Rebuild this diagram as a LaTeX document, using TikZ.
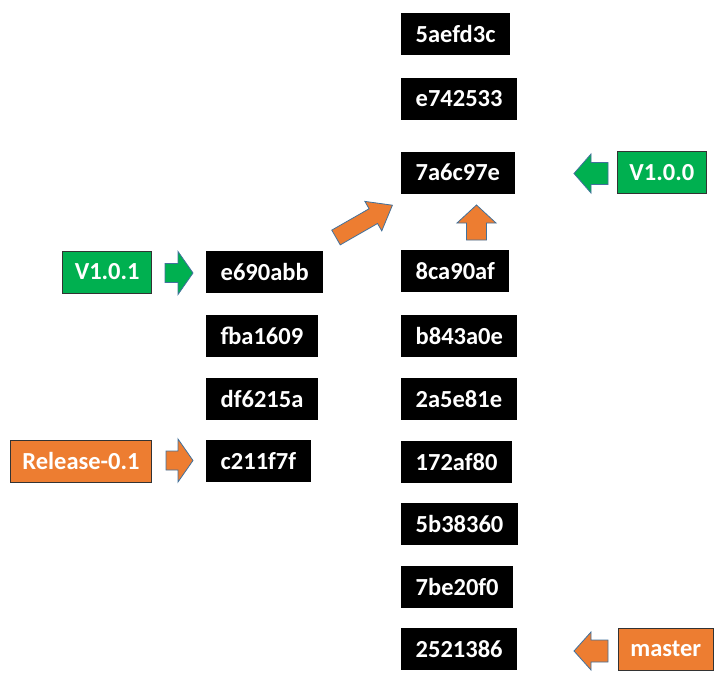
\documentclass[tikz,border=0pt]{standalone}
\usepackage{fontspec}
\setmainfont{Carlito}
\usepackage{xcolor}
\usetikzlibrary{positioning}

\definecolor{tagGreen}{RGB}{0,176,80}
\definecolor{tagOrange}{RGB}{237,125,49}
\definecolor{arrowEdge}{RGB}{65,113,156}

\tikzset{
    commit/.style={fill=black, text=white, anchor=west, minimum height=42pt,
        inner xsep=14.5pt, inner ysep=0pt, font=\bfseries\fontsize{24.5}{28}\selectfont},
    tag/.style={draw=black!80, line width=0.8pt, text=white, minimum height=42pt,
        inner xsep=12pt, inner ysep=0pt, font=\bfseries\fontsize{24.5}{28}\selectfont},
    blockarrow/.style={draw=arrowEdge, line width=0.8pt, line join=miter}
}

% tail, angle, length, shaft, head width, head length, colour
\newcommand{\blockarrow}[7]{%
    \draw[blockarrow, fill=#7, shift={#1}, rotate=#2]
        (0,-#4/2) -- ({#3-#6},-#4/2) -- ({#3-#6},-#5/2) -- (#3,0)
        -- ({#3-#6},#5/2) -- ({#3-#6},#4/2) -- (0,#4/2) -- cycle;
}

\begin{document}
\begin{tikzpicture}[x=1pt, y=1pt]
    \useasboundingbox (0,0) rectangle (726,-685);

    % master line
    \node[commit] (c5aefd3c) at (401,-34) {5aefd3c};
    \node[commit] (ce742533) at (401,-99) {e742533};
    \node[commit] (c7a6c97e) at (401,-172.5) {7a6c97e};
    \node[commit] (c8ca90af) at (401,-271) {8ca90af};
    \node[commit] (cb843a0e) at (401,-336) {b843a0e};
    \node[commit] (c2a5e81e) at (401,-399) {2a5e81e};
    \node[commit] (c172af80) at (401,-462) {172af80};
    \node[commit] (c5b38360) at (401,-524) {5b38360};
    \node[commit] (c7be20f0) at (401,-587) {7be20f0};
    \node[commit] (c2521386) at (401,-649) {2521386};

    % release line
    \node[commit] (ce690abb) at (206,-271.5) {e690abb};
    \node[commit] (cfba1609) at (206,-336) {fba1609};
    \node[commit] (cdf6215a) at (206,-399) {df6215a};
    \node[commit] (cc211f7f) at (206,-461) {c211f7f};

    % tags and branches
    \node[tag, fill=tagGreen, anchor=east] (v101) at (152,-272) {V1.0.1};
    \node[tag, fill=tagOrange, anchor=east] (rel01) at (152,-461) {Release-0.1};
    \node[tag, fill=tagGreen, anchor=west] (v100) at (617,-172.5) {V1.0.0};
    \node[tag, fill=tagOrange, anchor=west] (master) at (618,-649) {master};

    \blockarrow{(165,-273)}{0}{28}{19}{43}{15}{tagGreen}
    \blockarrow{(166,-460.5)}{0}{27}{19}{43}{15}{tagOrange}
    \blockarrow{(608,-173.5)}{180}{34}{22}{39}{17}{tagGreen}
    \blockarrow{(608,-651)}{180}{34}{22}{38}{17}{tagOrange}
    \blockarrow{(476.5,-240)}{90}{35}{20}{39}{18}{tagOrange}
    \blockarrow{(336,-237.5)}{29.8}{65}{17}{34}{22}{tagOrange}
\end{tikzpicture}
\end{document}
